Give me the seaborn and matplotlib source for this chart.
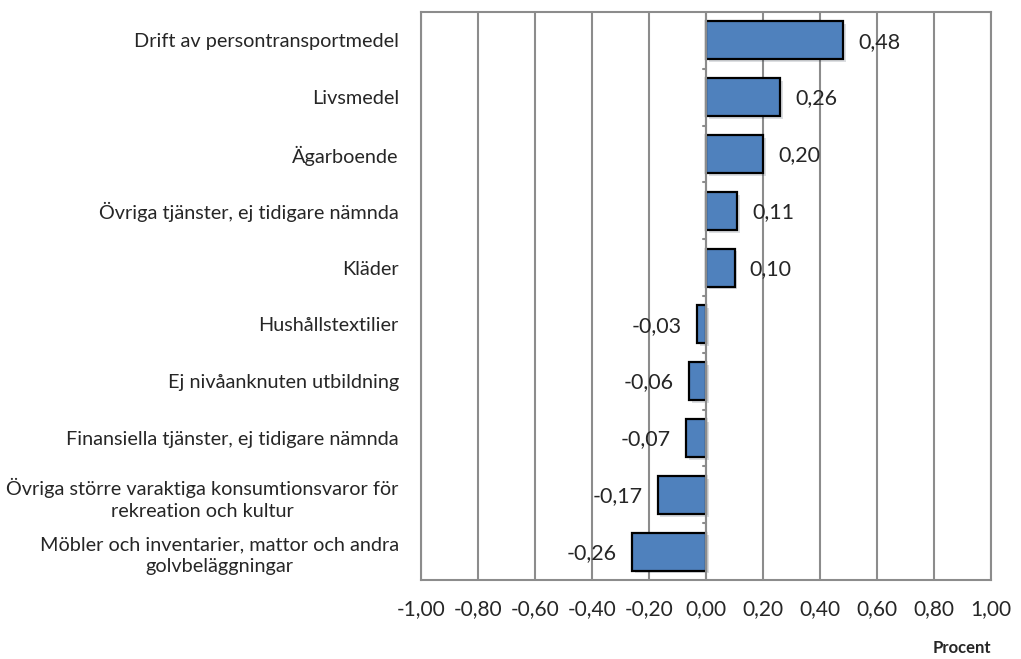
import matplotlib as mpl
import matplotlib.pyplot as plt
import matplotlib.patheffects as pe
import numpy as np
import pandas as pd
import seaborn as sns

categories = [
    "Drift av persontransportmedel",
    "Livsmedel",
    "Ägarboende",
    "Övriga tjänster, ej tidigare nämnda",
    "Kläder",
    "Hushållstextilier",
    "Ej nivåanknuten utbildning",
    "Finansiella tjänster, ej tidigare nämnda",
    "Övriga större varaktiga konsumtionsvaror för\nrekreation och kultur",
    "Möbler och inventarier, mattor och andra\ngolvbeläggningar",
]
values = [0.48, 0.26, 0.20, 0.11, 0.10, -0.03, -0.06, -0.07, -0.17, -0.26]
xticks = [-1.0, -0.8, -0.6, -0.4, -0.2, 0.0, 0.2, 0.4, 0.6, 0.8, 1.0]

sns.set_style("white")
plt.rcParams['font.family'] = ['Lato', 'DejaVu Sans']

df = pd.DataFrame({"kategori": categories, "varde": values})

fig = plt.figure(figsize=(10.21, 6.59), dpi=100)
ax = fig.add_axes([421 / 1021, 1 - 580 / 659, 570 / 1021, 568 / 659])

grid_col = "#8c8c8c"
for xt in xticks:
    ax.axvline(xt, color=grid_col, lw=1.5, zorder=0)

sns.barplot(data=df, x="varde", y="kategori", orient="h", color="#4F81BD",
            saturation=1, edgecolor="black", linewidth=1.6, width=0.67, ax=ax, zorder=3)
for p in ax.patches:
    p.set_path_effects([pe.SimplePatchShadow(offset=(2, -2), alpha=0.15), pe.Normal()])

ax.set_xlim(-1, 1)
ax.set_ylim(len(categories) - 0.5, -0.5)
ax.set_xticks(xticks)
ax.set_xticklabels([f"{t:.2f}".replace(".", ",") for t in xticks], fontsize=15)
ax.tick_params(axis="x", direction="out", length=6, width=1.5, color=grid_col, pad=8)
ax.tick_params(axis="y", length=0, pad=16)
for lbl in ax.get_yticklabels():
    lbl.set_fontsize(14.3)
    lbl.set_multialignment("center")
    lbl.set_linespacing(1.35)
ax.set_xlabel("")
ax.set_ylabel("")

for s in ax.spines.values():
    s.set_color(grid_col)
    s.set_linewidth(1.5)

# y axis at zero with category boundary ticks
ax.axvline(0, color=grid_col, lw=1.5, zorder=4)
for b in np.arange(0.5, len(categories) - 0.5, 1.0):
    ax.plot([-0.012, 0], [b, b], color=grid_col, lw=1.5, zorder=4)

for i, v in enumerate(values):
    txt = f"{v:.2f}".replace(".", ",")
    if v >= 0:
        ax.annotate(txt, (v, i), xytext=(11, -1), textcoords="offset points",
                    ha="left", va="center", fontsize=15.5, zorder=5)
    else:
        ax.annotate(txt, (v, i), xytext=(-11, -1), textcoords="offset points",
                    ha="right", va="center", fontsize=15.5, zorder=5)

fig.text(991 / 1021, 1 - 648 / 659, "Procent", ha="right", va="center",
         fontsize=12, fontweight="bold")

fig.savefig("out.png", dpi=100)
